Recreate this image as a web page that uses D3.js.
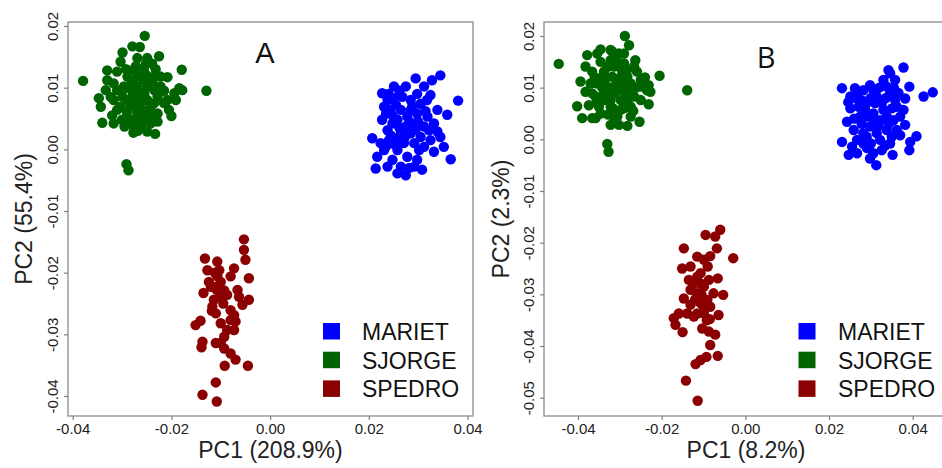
<!DOCTYPE html>
<html>
<head>
<meta charset="utf-8">
<script src="https://cdn.jsdelivr.net/npm/d3@7"></script>
<style>
  html, body { margin: 0; padding: 0; background: #fff; }
  svg { display: block; font-family: "Liberation Sans", Arial, sans-serif; }
</style>
</head>
<body>
<svg id="chart" width="942" height="468"></svg>
<script>
// Population groups and their colours
const groups = ["MARIET", "SJORGE", "SPEDRO"];
const groupColors = ["#0000FF", "#006400", "#8B0000"];

// Axis ticks
const xTicks = [-0.04, -0.02, 0.00, 0.02, 0.04];
const yTicksA = [-0.04, -0.03, -0.02, -0.01, 0.00, 0.01, 0.02];
const yTicksB = [-0.05, -0.04, -0.03, -0.02, -0.01, 0.00, 0.01, 0.02];

// Panel A scores [PC1, PC2]
const scoresA_MARIET = [
  [0.0345,0.0120],[0.0328,0.0112],[0.0381,0.0079],[0.0295,0.0115],[0.0275,0.0102],
  [0.0359,0.0056],[0.0366,-0.0016],[0.0352,0.0004],[0.0332,-0.0004],[0.0308,-0.0033],
  [0.0275,-0.0042],[0.0258,-0.0039],[0.0238,-0.0028],[0.0214,-0.0031],[0.0207,0.0018],
  [0.0217,-0.0012],[0.0227,0.0091],[0.0231,0.0069],[0.0227,0.0048],[0.0251,0.0083],
  [0.0325,0.0088],[0.0339,0.0064],[0.0339,0.0029],[0.0325,0.0015],[0.0312,0.0037],
  [0.0298,0.0058],[0.0285,0.0080],[0.0265,0.0064],[0.0248,0.0042],[0.0241,0.0015],
  [0.0231,-0.0001],[0.0258,-0.0001],[0.0278,-0.0012],[0.0298,-0.0017],[0.0292,0.0010],
  [0.0305,0.0020],[0.0285,0.0026],[0.0265,0.0026],[0.0258,0.0048],[0.0278,0.0053],
  [0.0305,0.0074],[0.0319,0.0053],[0.0292,0.0042],[0.0271,0.0010],[0.0244,0.0064],
  [0.0238,0.0031],[0.0224,0.0010],[0.0248,-0.0017],[0.0265,-0.0028],[0.0292,-0.0028],
  [0.0312,0.0102],[0.0322,0.0031],[0.0332,0.0042],[0.0251,0.0102],[0.0285,0.0064],
  [0.0258,0.0015],[0.0312,0.0004],[0.0238,0.0080],[0.0302,-0.0001],[0.0275,0.0037],
  [0.0255,0.0072],[0.0268,0.0085],[0.0282,0.0045],[0.0248,0.0055],[0.0262,0.0035],
  [0.0295,0.0032],[0.0272,0.0018],[0.0245,0.0022],[0.0235,0.0058],[0.0288,0.0070],
  [0.0300,0.0045],[0.0315,0.0062],[0.0262,0.0095],[0.0240,0.0090],[0.0235,0.0005],
  [0.0282,-0.0030],[0.0318,0.0080],[0.0252,0.0008],[0.0298,0.0090],[0.0345,0.0020]
];
const scoresA_SJORGE = [
  [-0.0379,0.0111],[-0.0254,0.0184],[-0.0129,0.0095],[-0.0179,0.0129],[-0.0291,-0.0024],
  [-0.0287,-0.0034],[-0.0340,0.0043],[-0.0279,0.0167],[-0.0264,0.0166],[-0.0299,0.0157],
  [-0.0225,0.0151],[-0.0249,0.0148],[-0.0330,0.0128],[-0.0303,0.0142],[-0.0269,0.0148],
  [-0.0239,0.0139],[-0.0208,0.0117],[-0.0184,0.0099],[-0.0194,0.0091],[-0.0208,0.0080],
  [-0.0205,0.0064],[-0.0200,0.0054],[-0.0233,0.0025],[-0.0249,0.0029],[-0.0277,0.0027],
  [-0.0295,0.0037],[-0.0317,0.0042],[-0.0343,0.0069],[-0.0347,0.0083],[-0.0333,0.0096],
  [-0.0330,0.0112],[-0.0310,0.0096],[-0.0317,0.0080],[-0.0310,0.0064],[-0.0296,0.0102],
  [-0.0289,0.0118],[-0.0276,0.0129],[-0.0256,0.0129],[-0.0235,0.0118],[-0.0222,0.0102],
  [-0.0228,0.0086],[-0.0242,0.0069],[-0.0256,0.0053],[-0.0269,0.0058],[-0.0283,0.0069],
  [-0.0276,0.0086],[-0.0262,0.0091],[-0.0249,0.0080],[-0.0262,0.0075],[-0.0289,0.0080],
  [-0.0269,0.0102],[-0.0249,0.0102],[-0.0235,0.0096],[-0.0303,0.0069],[-0.0283,0.0048],
  [-0.0262,0.0037],[-0.0242,0.0042],[-0.0228,0.0058],[-0.0215,0.0075],[-0.0256,0.0113],
  [-0.0269,0.0118],[-0.0245,0.0064],[-0.0273,0.0075],[-0.0259,0.0064],[-0.0317,0.0107],
  [-0.0323,0.0085],[-0.0299,0.0085],[-0.0279,0.0093],[-0.0235,0.0075],[-0.0266,0.0048],
  [-0.0222,0.0118],[-0.0310,0.0126],[-0.0191,0.0080],[-0.0178,0.0096],[-0.0276,0.0037],
  [-0.0285,0.0100],[-0.0270,0.0070],[-0.0255,0.0090],[-0.0240,0.0055],[-0.0290,0.0060],
  [-0.0280,0.0110],[-0.0250,0.0120],[-0.0265,0.0082],[-0.0300,0.0095],[-0.0238,0.0108],
  [-0.0258,0.0045],[-0.0272,0.0135],[-0.0292,0.0130],[-0.0232,0.0130],[-0.0268,0.0030],
  [-0.0252,0.0138],[-0.0320,0.0055],[-0.0215,0.0095],[-0.0228,0.0045],[-0.0300,0.0048]
];
const scoresA_SPEDRO = [
  [-0.0053,-0.0146],[-0.0053,-0.0163],[-0.0050,-0.0179],[-0.0043,-0.0209],[-0.0043,-0.0244],
  [-0.0056,-0.0252],[-0.0045,-0.0351],[-0.0070,-0.0341],[-0.0092,-0.0351],[-0.0110,-0.0378],
  [-0.0137,-0.0398],[-0.0108,-0.0409],[-0.0151,-0.0285],[-0.0141,-0.0278],[-0.0137,-0.0312],
  [-0.0139,-0.0321],[-0.0135,-0.0233],[-0.0132,-0.0177],[-0.0127,-0.0196],[-0.0107,-0.0182],
  [-0.0103,-0.0196],[-0.0073,-0.0193],[-0.0080,-0.0206],[-0.0100,-0.0215],[-0.0114,-0.0223],
  [-0.0093,-0.0229],[-0.0087,-0.0236],[-0.0066,-0.0228],[-0.0063,-0.0239],[-0.0114,-0.0244],
  [-0.0117,-0.0255],[-0.0110,-0.0266],[-0.0080,-0.0261],[-0.0080,-0.0277],[-0.0070,-0.0279],
  [-0.0100,-0.0282],[-0.0087,-0.0293],[-0.0073,-0.0293],[-0.0093,-0.0304],[-0.0100,-0.0314],
  [-0.0110,-0.0314],[-0.0093,-0.0323],[-0.0080,-0.0331],[-0.0120,-0.0223],[-0.0100,-0.0239],
  [-0.0107,-0.0206],[-0.0124,-0.0215],[-0.0073,-0.0269],[-0.0108,-0.0228],[-0.0118,-0.0262],
  [-0.0095,-0.0250],[-0.0112,-0.0200]
];

// Panel B scores [PC1, PC2]
const scoresB_MARIET = [
  [0.0378,0.0139],[0.0342,0.0134],[0.0448,0.0091],[0.0426,0.0083],[0.0392,0.0102],
  [0.0231,0.0099],[0.0262,0.0099],[0.0409,0.0006],[0.0392,-0.0021],[0.0394,-0.0005],
  [0.0352,-0.0030],[0.0313,-0.0050],[0.0298,-0.0037],[0.0247,-0.0030],[0.0267,-0.0027],
  [0.0231,-0.0005],[0.0243,0.0034],[0.0251,0.0060],[0.0267,0.0079],[0.0298,0.0105],
  [0.0330,0.0115],[0.0358,0.0115],[0.0382,0.0079],[0.0378,0.0057],[0.0382,0.0028],
  [0.0370,0.0008],[0.0346,-0.0008],[0.0326,-0.0021],[0.0291,-0.0017],[0.0267,-0.0001],
  [0.0259,0.0018],[0.0274,0.0044],[0.0290,0.0070],[0.0314,0.0083],[0.0346,0.0089],
  [0.0362,0.0063],[0.0354,0.0037],[0.0338,0.0018],[0.0314,0.0012],[0.0298,0.0025],
  [0.0306,0.0050],[0.0330,0.0057],[0.0322,0.0037],[0.0282,0.0095],[0.0338,0.0102],
  [0.0251,0.0083],[0.0282,0.0012],[0.0322,-0.0001],[0.0362,0.0018],[0.0306,-0.0027],
  [0.0358,0.0076],[0.0294,0.0044],[0.0338,0.0044],[0.0271,0.0063],[0.0310,0.0070],
  [0.0370,0.0044],[0.0255,-0.0014],[0.0346,0.0128],[0.0306,0.0095],[0.0282,-0.0008],
  [0.0286,0.0058],[0.0318,0.0025],[0.0300,0.0080],[0.0326,0.0070],[0.0278,0.0030],
  [0.0342,0.0030],[0.0350,0.0060],[0.0310,0.0038],[0.0290,0.0005],[0.0270,0.0090],
  [0.0336,0.0080],[0.0260,0.0040],[0.0320,0.0100],[0.0350,0.0005],[0.0300,-0.0008],
  [0.0366,0.0090],[0.0246,0.0072],[0.0334,-0.0012],[0.0280,0.0075],[0.0355,0.0100]
];
const scoresB_SJORGE = [
  [-0.0446,0.0146],[-0.0288,0.0200],[-0.0278,0.0182],[-0.0139,0.0095],[-0.0205,0.0123],
  [-0.0330,-0.0009],[-0.0327,-0.0024],[-0.0402,0.0064],[-0.0390,0.0041],[-0.0378,0.0163],
  [-0.0346,0.0174],[-0.0322,0.0173],[-0.0382,0.0141],[-0.0394,0.0112],[-0.0366,0.0131],
  [-0.0263,0.0153],[-0.0259,0.0131],[-0.0231,0.0105],[-0.0227,0.0092],[-0.0231,0.0068],
  [-0.0253,0.0034],[-0.0282,0.0026],[-0.0302,0.0028],[-0.0322,0.0028],[-0.0366,0.0041],
  [-0.0374,0.0066],[-0.0382,0.0092],[-0.0358,0.0083],[-0.0354,0.0108],[-0.0338,0.0131],
  [-0.0314,0.0141],[-0.0290,0.0147],[-0.0282,0.0121],[-0.0306,0.0115],[-0.0330,0.0102],
  [-0.0338,0.0076],[-0.0322,0.0063],[-0.0298,0.0057],[-0.0274,0.0063],[-0.0266,0.0083],
  [-0.0250,0.0102],[-0.0290,0.0095],[-0.0314,0.0089],[-0.0298,0.0076],[-0.0274,0.0108],
  [-0.0346,0.0050],[-0.0306,0.0044],[-0.0274,0.0044],[-0.0250,0.0076],[-0.0370,0.0108],
  [-0.0322,0.0153],[-0.0302,0.0166],[-0.0346,0.0150],[-0.0290,0.0166],[-0.0318,0.0121],
  [-0.0294,0.0131],[-0.0338,0.0089],[-0.0282,0.0076],[-0.0306,0.0095],[-0.0366,0.0089],
  [-0.0350,0.0063],[-0.0250,0.0115],[-0.0358,0.0041],[-0.0314,0.0034],[-0.0294,0.0108],
  [-0.0322,0.0076],[-0.0266,0.0141],[-0.0354,0.0166],[-0.0235,0.0095],[-0.0334,0.0118],
  [-0.0310,0.0105],[-0.0326,0.0090],[-0.0298,0.0120],[-0.0286,0.0088],[-0.0342,0.0100],
  [-0.0316,0.0060],[-0.0300,0.0140],[-0.0276,0.0095],[-0.0330,0.0140],[-0.0262,0.0100],
  [-0.0344,0.0120],[-0.0290,0.0060],[-0.0308,0.0155],[-0.0360,0.0120],[-0.0282,0.0135],
  [-0.0328,0.0048],[-0.0240,0.0120],[-0.0268,0.0055],[-0.0355,0.0075],[-0.0318,0.0170]
];
const scoresB_SPEDRO = [
  [-0.0060,-0.0175],[-0.0072,-0.0188],[-0.0095,-0.0185],[-0.0029,-0.0230],[-0.0068,-0.0211],
  [-0.0084,-0.0226],[-0.0147,-0.0211],[-0.0115,-0.0227],[-0.0090,-0.0246],[-0.0151,-0.0250],
  [-0.0135,-0.0272],[-0.0107,-0.0259],[-0.0066,-0.0269],[-0.0053,-0.0301],[-0.0147,-0.0308],
  [-0.0115,-0.0298],[-0.0099,-0.0285],[-0.0091,-0.0311],[-0.0131,-0.0320],[-0.0107,-0.0317],
  [-0.0139,-0.0337],[-0.0171,-0.0346],[-0.0167,-0.0359],[-0.0150,-0.0373],[-0.0159,-0.0337],
  [-0.0123,-0.0343],[-0.0099,-0.0337],[-0.0064,-0.0340],[-0.0085,-0.0348],[-0.0103,-0.0366],
  [-0.0087,-0.0372],[-0.0072,-0.0378],[-0.0084,-0.0398],[-0.0066,-0.0419],[-0.0093,-0.0421],
  [-0.0107,-0.0427],[-0.0119,-0.0435],[-0.0142,-0.0467],[-0.0114,-0.0506],[-0.0131,-0.0291],
  [-0.0107,-0.0279],[-0.0115,-0.0266],[-0.0099,-0.0324],[-0.0115,-0.0337],[-0.0076,-0.0298],
  [-0.0084,-0.0324],[-0.0131,-0.0246],[-0.0087,-0.0272],[-0.0099,-0.0233],[-0.0120,-0.0310],
  [-0.0105,-0.0300],[-0.0125,-0.0280],[-0.0092,-0.0350]
];

const panels = [
  {
    tag: "A", xTitle: "PC1 (208.9%)", yTitle: "PC2 (55.4%)",
    series: [scoresA_MARIET, scoresA_SJORGE, scoresA_SPEDRO],
    yTicks: yTicksA,
    box: { left: 68, right: 473, top: 22, bottom: 416 },
    xRange: [72.7, 467.5], yDomain: [-0.04, 0.02], yRange: [396, 26],
    tagPos: [265, 63], tagFont: "Liberation Sans, Arial, sans-serif",
    legendX: 323, legendTextX: 362, yTitleX: 32
  },
  {
    tag: "B", xTitle: "PC1 (8.2%)", yTitle: "PC2 (2.3%)",
    series: [scoresB_MARIET, scoresB_SJORGE, scoresB_SPEDRO],
    yTicks: yTicksB,
    box: { left: 544, right: 948, top: 22, bottom: 416 },
    xRange: [578, 912.7], yDomain: [-0.05, 0.02], yRange: [397.7, 36],
    tagPos: [766, 68], tagFont: "Open Sans, Liberation Sans, sans-serif",
    legendX: 798.5, legendTextX: 838, yTitleX: 509
  }
];

const svg = d3.select("#chart");
const fmt = d => d.toFixed(2);
const axisGrey = "#7f7f7f";

panels.forEach(p => {
  const x = d3.scaleLinear().domain([-0.04, 0.04]).range(p.xRange);
  const y = d3.scaleLinear().domain(p.yDomain).range(p.yRange);
  const g = svg.append("g");

  // plotting frame
  g.append("rect")
    .attr("x", p.box.left).attr("y", p.box.top)
    .attr("width", p.box.right - p.box.left).attr("height", p.box.bottom - p.box.top)
    .attr("fill", "none").attr("stroke", "#8c8c8c").attr("stroke-width", 1.3);

  // bottom axis
  const gx = g.append("g").attr("transform", `translate(0,${p.box.bottom})`)
    .call(d3.axisBottom(x).tickValues(xTicks).tickFormat(fmt).tickSize(4).tickSizeOuter(0));
  gx.select(".domain").remove();
  gx.selectAll(".tick line").attr("stroke", axisGrey).attr("stroke-width", 1.2);
  gx.selectAll(".tick text")
    .attr("y", 17.5).attr("dy", 0)
    .attr("fill", "#222").style("font-size", "15px")
    .style("font-family", "Liberation Sans, Arial, sans-serif");

  // left axis, labels turned to run upward
  const gy = g.append("g").attr("transform", `translate(${p.box.left},0)`)
    .call(d3.axisLeft(y).tickValues(p.yTicks).tickFormat(fmt).tickSize(4).tickSizeOuter(0));
  gy.select(".domain").remove();
  gy.selectAll(".tick line").attr("stroke", axisGrey).attr("stroke-width", 1.2);
  gy.selectAll(".tick text")
    .attr("transform", "rotate(-90)")
    .attr("x", 0).attr("y", -10).attr("dy", 0)
    .attr("text-anchor", "middle")
    .attr("fill", "#222").style("font-size", "15px")
    .style("font-family", "Liberation Sans, Arial, sans-serif");

  // axis titles
  g.append("text")
    .attr("x", (p.box.left + Math.min(p.box.right, 946)) / 2 + (p.tag === "B" ? 1 : 0))
    .attr("y", 458)
    .attr("text-anchor", "middle").attr("fill", "#222")
    .style("font-size", "23px")
    .text(p.xTitle);
  g.append("text")
    .attr("transform", `translate(${p.yTitleX},${(p.box.top + p.box.bottom) / 2}) rotate(-90)`)
    .attr("text-anchor", "middle").attr("fill", "#222")
    .style("font-size", "23px")
    .text(p.yTitle);

  // points
  p.series.forEach((pts, i) => {
    g.append("g").selectAll("circle")
      .data(pts).join("circle")
      .attr("cx", d => x(d[0])).attr("cy", d => y(d[1]))
      .attr("r", 5.2).attr("fill", groupColors[i]);
  });

  // panel tag
  g.append("text")
    .attr("x", p.tagPos[0]).attr("y", p.tagPos[1])
    .attr("text-anchor", "middle").attr("fill", "#111")
    .style("font-size", "29px").style("font-family", p.tagFont)
    .text(p.tag);

  // legend
  const lg = g.append("g");
  groups.forEach((name, i) => {
    const top = 323 + i * 28.7;
    lg.append("rect")
      .attr("x", p.legendX).attr("y", top)
      .attr("width", 17).attr("height", 16.5)
      .attr("fill", groupColors[i]);
    lg.append("text")
      .attr("x", p.legendTextX).attr("y", top + 17)
      .attr("fill", "#111").style("font-size", "23px")
      .text(name);
  });
});
</script>
</body>
</html>
